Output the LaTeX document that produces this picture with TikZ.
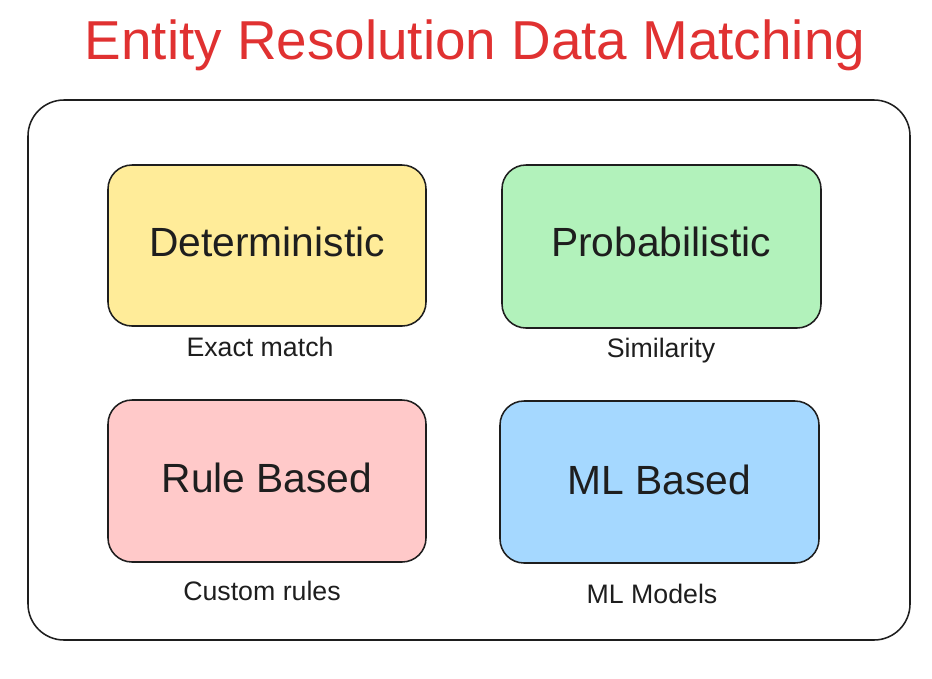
\documentclass[tikz,border=0pt]{standalone}
\usepackage{fontspec}
\setmainfont{Liberation Sans}
\definecolor{ttlred}{RGB}{224,49,49}
\definecolor{detyel}{RGB}{255,236,153}
\definecolor{probgrn}{RGB}{178,242,187}
\definecolor{rulepnk}{RGB}{255,201,201}
\definecolor{mlblu}{RGB}{165,216,255}
\definecolor{inkc}{RGB}{30,30,30}
\begin{document}
\begin{tikzpicture}[x=0.025cm, y=-0.025cm]
	\tikzset{card/.style={draw=inkc, line width=1.1pt, rounded corners=0.6cm}};
	\tikzset{big/.style={font=\fontsize{29}{32}\selectfont, text=inkc}};
	\tikzset{small/.style={font=\fontsize{19}{21}\selectfont, text=inkc}};

	\useasboundingbox (0,0) rectangle (932,678);

	\node[font=\fontsize{39}{43}\selectfont, text=ttlred] (title) at (475,45) {Entity Resolution Data Matching};

	\draw[card, rounded corners=0.9cm, fill=white] (28,100) rectangle (910,640);

	\draw[card, fill=detyel] (108,165) rectangle (426,326);
	\draw[card, fill=probgrn] (502,165) rectangle (821,328);
	\draw[card, fill=rulepnk] (108,400) rectangle (426,562);
	\draw[card, fill=mlblu] (500,401) rectangle (819,563);

	\node[big] (det) at (267,242) {Deterministic};
	\node[big] (prob) at (661,242) {Probabilistic};
	\node[big] (rule) at (267,478) {Rule Based};
	\node[big] (ml) at (659,480) {ML Based};

	\node[small] (exact) at (260,347) {Exact match};
	\node[small] (sim) at (661,351) {Similarity};
	\node[small] (cust) at (262,591) {Custom rules};
	\node[small] (mlmod) at (652,594) {ML Models};
\end{tikzpicture}
\end{document}
